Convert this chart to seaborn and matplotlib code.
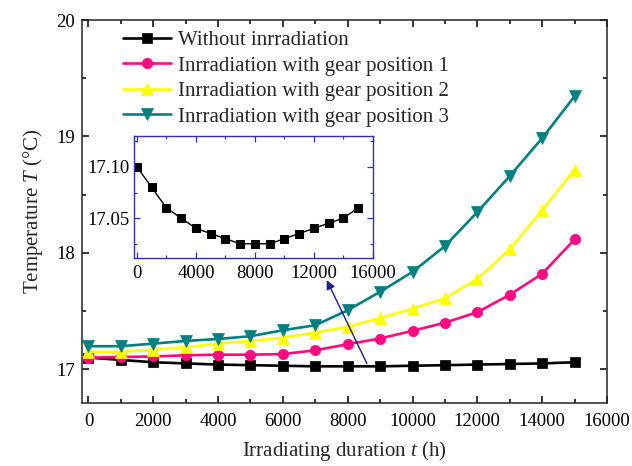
import matplotlib
matplotlib.use("Agg")
import matplotlib.pyplot as plt
import seaborn as sns
import pandas as pd
from matplotlib.ticker import AutoMinorLocator, FormatStrFormatter

# ---------------- data ----------------
t_hours = [0, 1000, 2000, 3000, 4000, 5000, 6000, 7000, 8000, 9000,
           10000, 11000, 12000, 13000, 14000, 15000]
without_irr = [17.100, 17.080, 17.060, 17.050, 17.040, 17.035, 17.030, 17.025,
               17.025, 17.025, 17.030, 17.035, 17.040, 17.045, 17.050, 17.060]
gear1 = [17.100, 17.105, 17.110, 17.120, 17.125, 17.125, 17.130, 17.163,
         17.215, 17.264, 17.330, 17.400, 17.490, 17.640, 17.820, 18.115]
gear2 = [17.149, 17.149, 17.169, 17.190, 17.220, 17.243, 17.270, 17.315,
         17.364, 17.440, 17.520, 17.610, 17.774, 18.030, 18.365, 18.715]
gear3 = [17.198, 17.198, 17.220, 17.243, 17.260, 17.284, 17.335, 17.378,
         17.507, 17.665, 17.837, 18.058, 18.350, 18.660, 18.985, 19.345]
series_labels = ["Without inrradiation",
                 "Inrradiation with gear position 1",
                 "Inrradiation with gear position 2",
                 "Inrradiation with gear position 3"]
main_xticks = [0, 2000, 4000, 6000, 8000, 10000, 12000, 14000, 16000]
main_yticks = [17, 18, 19, 20]
inset_xticks = [0, 4000, 8000, 12000, 16000]
inset_yticks = [17.05, 17.10]

# ---------------- style ----------------
sns.set_theme(style="ticks")
plt.rcParams["font.family"] = ["Liberation Serif", "DejaVu Serif"]
plt.rcParams["mathtext.fontset"] = "custom"
plt.rcParams["mathtext.rm"] = "Liberation Serif"
plt.rcParams["mathtext.it"] = "Liberation Serif:italic"
plt.rcParams["axes.linewidth"] = 1.1

fig = plt.figure(figsize=(6.32, 4.66), dpi=100)
ax = fig.add_axes([0.1297, 0.1352, 0.8307, 0.8218])

colors = ["#000000", "#FF0A80", "#FFFF00", "#008080"]
markers = ["s", "o", "^", "v"]
msizes = [6.5, 7.5, 8.5, 8.5]
values = [without_irr, gear1, gear2, gear3]

for vals, lab, c, m, ms in zip(values, series_labels, colors, markers, msizes):
    df = pd.DataFrame({"t": t_hours, "T": vals})
    sns.lineplot(data=df, x="t", y="T", ax=ax, color=c, marker=m,
                 markersize=ms, markeredgecolor=c, markeredgewidth=0.5,
                 linewidth=1.9, label=lab)

ax.set_xlim(-200, 16000)
ax.set_ylim(16.71, 20)
ax.set_xticks(main_xticks)
ax.set_yticks(main_yticks)
ax.xaxis.set_minor_locator(AutoMinorLocator(2))
ax.yaxis.set_minor_locator(AutoMinorLocator(2))
ax.tick_params(which="both", direction="in", top=True, right=True,
               width=1.1, labelsize=13.5, colors="black")
ax.tick_params(which="major", length=5)
ax.tick_params(which="minor", length=3)
ax.tick_params(axis="x", pad=7)
ax.tick_params(axis="y", pad=5)
ax.set_xlabel("Irradiating duration $\\mathit{t}$ (h)", fontsize=15, labelpad=7)
ax.set_ylabel("Temperature $\\mathit{T}$ (°C)", fontsize=15, labelpad=8)

leg = ax.legend(loc="upper left", bbox_to_anchor=(0.078, 0.972), frameon=False,
                fontsize=15, handlelength=2.3, handletextpad=0.35,
                labelspacing=0.28, borderpad=0, borderaxespad=0)

# arrow from main curve to inset
ax.annotate("", xy=(7354, 17.765), xytext=(8590, 17.05),
            arrowprops=dict(arrowstyle="-|>", color="#1a1a96", lw=1.0,
                            mutation_scale=13, shrinkA=0, shrinkB=0))

# ---------------- inset ----------------
blue = "#3030b8"
axin = fig.add_axes([0.212, 0.446, 0.378, 0.262])
sns.lineplot(x=t_hours, y=without_irr, ax=axin, color="black", marker="s",
             markersize=5.5, markeredgecolor="black", linewidth=1.0)
axin.set_xlim(-200, 16000)
axin.set_ylim(17.011, 17.130)
axin.set_xticks(inset_xticks)
axin.set_yticks(inset_yticks)
axin.yaxis.set_major_formatter(FormatStrFormatter("%.2f"))
axin.xaxis.set_minor_locator(AutoMinorLocator(2))
axin.yaxis.set_minor_locator(AutoMinorLocator(2))
axin.tick_params(which="both", direction="in", top=True, right=True,
                 colors=blue, labelcolor="black", labelsize=13.5, width=0.9)
axin.tick_params(which="major", length=4)
axin.tick_params(which="minor", length=2.5)
axin.tick_params(axis="x", pad=5)
axin.tick_params(axis="y", pad=3)
for sp in axin.spines.values():
    sp.set_color(blue)
    sp.set_linewidth(1.0)
axin.set_xlabel("")
axin.set_ylabel("")

fig.savefig("out.png", dpi=100)
